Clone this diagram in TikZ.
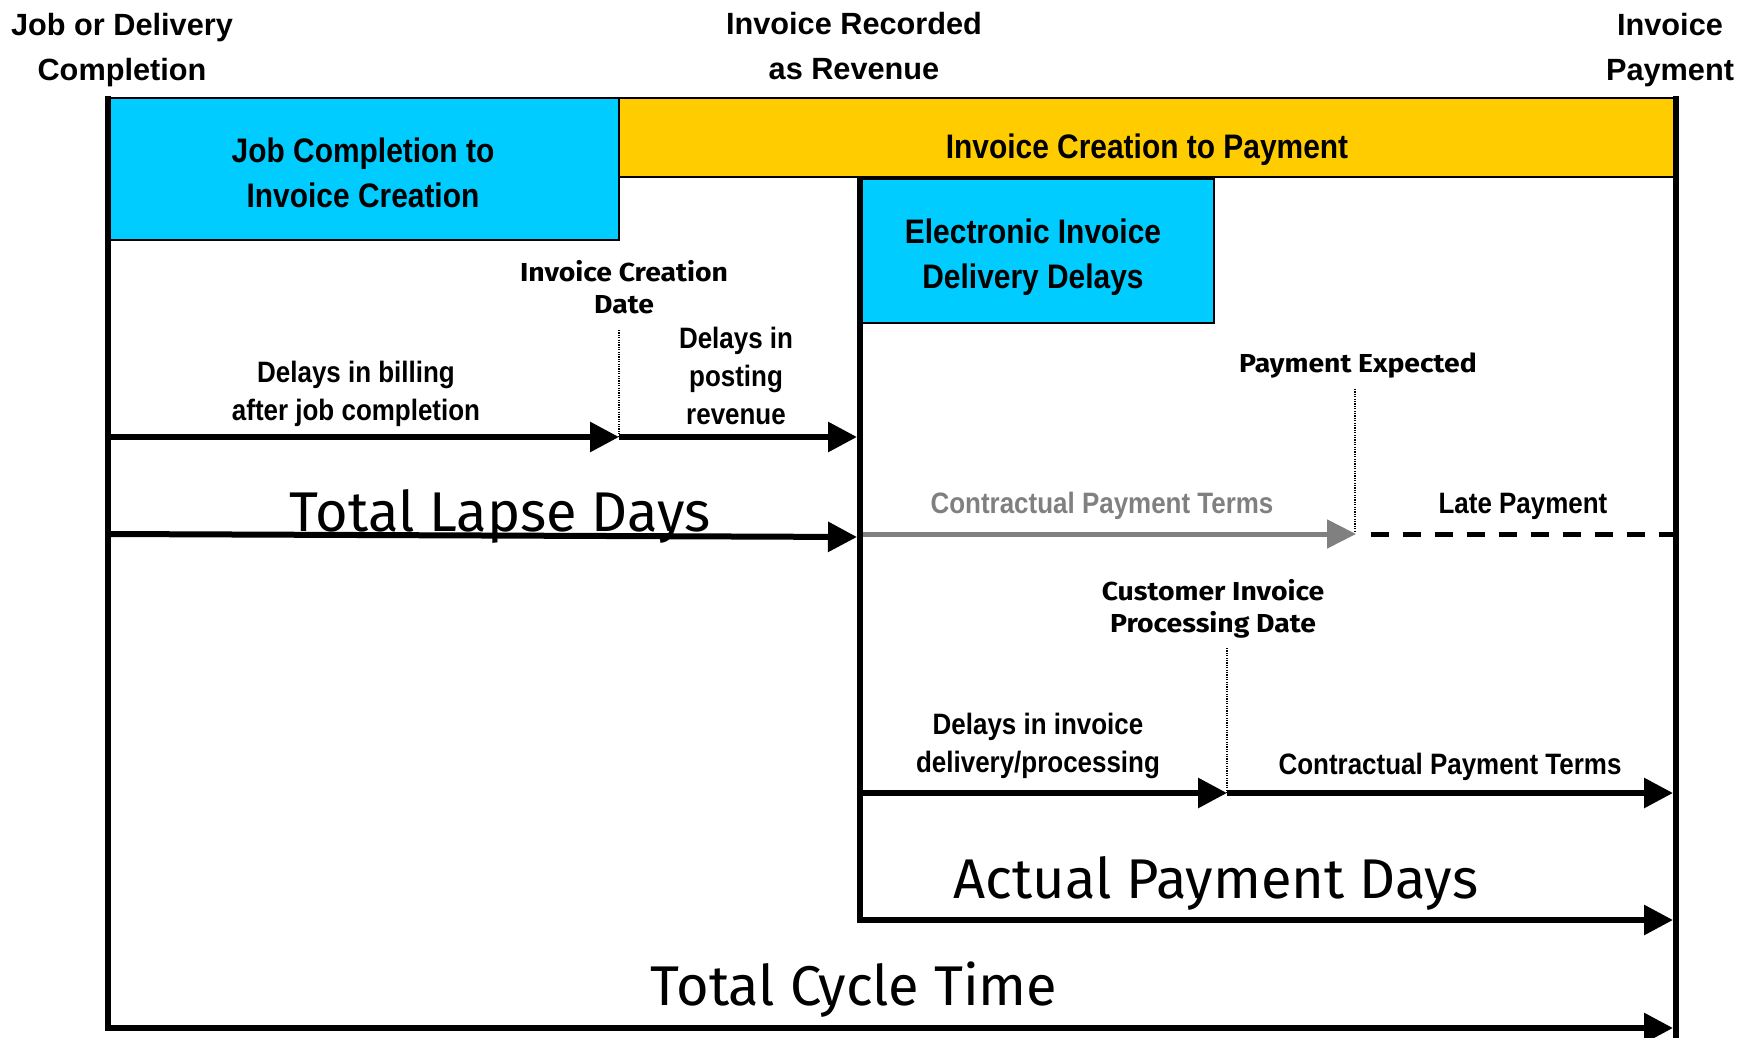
\documentclass[tikz,border=0pt]{standalone}
\usepackage{fontspec}
\setmainfont{Liberation Sans}
\newfontfamily\narrow{Liberation Sans}[FakeStretch=0.88]
\newfontfamily\comic{Fira Sans}
\newfontfamily\comicw{Fira Sans}[FakeStretch=1.09]
\usetikzlibrary{arrows.meta}
\definecolor{boxblue}{RGB}{0,204,255}
\definecolor{baryellow}{RGB}{255,204,0}
\definecolor{termgray}{RGB}{128,128,128}
\begin{document}
\begin{tikzpicture}[x=1pt,y=-1pt,
  toplab/.style={align=center, font=\bfseries\fontsize{30.7}{45}\selectfont, inner sep=0pt},
  boxlab/.style={align=center, font=\narrow\bfseries\fontsize{34}{45}\selectfont, inner sep=0pt},
  arrlab/.style={align=center, font=\narrow\bfseries\fontsize{29.5}{38}\selectfont, inner sep=0pt},
  datelab/.style={align=center, font=\comicw\bfseries\fontsize{26}{32}\selectfont, inner sep=0pt},
  biglab/.style={font=\comic\fontsize{56}{60}\selectfont, inner sep=0pt},
  flow/.style={line width=6pt, -{Triangle[length=29pt,width=29pt]}},
  grayflow/.style={line width=5pt, termgray, -{Triangle[length=29pt,width=28pt]}},
  frameline/.style={line width=6pt},
  thinbox/.style={draw=black, line width=1.5pt},
  marker/.style={line width=1.2pt, dash pattern=on 1.2pt off 1.2pt},
  latedash/.style={line width=5pt, dash pattern=on 18pt off 14pt},
]
\useasboundingbox (0,0) rectangle (1743,1038);

% boxes
\draw[thinbox, fill=boxblue] (108,98) rectangle (619,240);
\draw[thinbox, fill=baryellow] (619,98) rectangle (1676,177);
\draw[thinbox, fill=boxblue] (861,179) rectangle (1214,323);

% frame lines
\coordinate (lt) at (108,96);
\coordinate (lb) at (108,1031);
\coordinate (rt) at (1676,96);
\coordinate (rb) at (1676,1038);
\coordinate (mt) at (860,177);
\coordinate (mb) at (860,923);
\draw[frameline] (lt) -- (lb);
\draw[frameline] (rt) -- (rb);
\draw[frameline] (mt) -- (mb);

% top labels
\node[toplab] (jdc) at (122,50) {Job or Delivery\\Completion};
\node[toplab] (irr) at (854,46) {Invoice Recorded\\as Revenue};
\node[toplab] (ip) at (1670,50) {Invoice\\Payment};

% box labels
\node[boxlab] (jci) at (363,173) {Job Completion to\\Invoice Creation};
\node[boxlab] (icp) at (1147,150) {Invoice Creation to Payment};
\node[boxlab] (eid) at (1033,257) {Electronic Invoice\\Delivery Delays};

% coordinates for arrows
\coordinate (a1s) at (108,437);
\coordinate (a1e) at (619,437);
\coordinate (a2e) at (857,437);
\coordinate (tls) at (108,534);
\coordinate (tle) at (857,537);
\coordinate (cps) at (863,534);
\coordinate (cpe) at (1356,534);
\coordinate (lps) at (1371,534);
\coordinate (lpe) at (1676,534);
\coordinate (dis) at (860,793);
\coordinate (die) at (1227,793);
\coordinate (cte) at (1673,793);
\coordinate (aps) at (860,920);
\coordinate (ape) at (1673,920);
\coordinate (tcs) at (108,1028);
\coordinate (tce) at (1673,1028);

% dotted markers
\coordinate (d1t) at (619,330);
\coordinate (d2t) at (1355,389);
\coordinate (d2b) at (1355,531);
\coordinate (d3t) at (1227,648);
\draw[marker] (d1t) -- (a1e);
\draw[marker] (d2t) -- (d2b);
\draw[marker] (d3t) -- (die);

% arrows
\draw[flow] (a1s) -- (a1e);
\draw[flow] (a1e) -- (a2e);
\draw[flow] (tls) -- (tle);
\draw[grayflow] (cps) -- (cpe);
\draw[latedash] (lps) -- (lpe);
\draw[flow] (dis) -- (die);
\draw[flow] (die) -- (cte);
\draw[flow] (aps) -- (ape);
\draw[flow] (tcs) -- (tce);

% date labels
\node[datelab] (icd) at (624,287) {Invoice Creation\\Date};
\node[datelab] (pe) at (1358,366) {Payment Expected};
\node[datelab] (cipd) at (1213,609) {Customer Invoice\\Processing Date};

% arrow labels
\node[arrlab] (dpr) at (736,376) {Delays in\\posting\\revenue};
\node[arrlab] (dib) at (356,394) {Delays in billing\\after job completion};
\node[arrlab, text=termgray] (cpt1) at (1102,506) {Contractual Payment Terms};
\node[arrlab] (lp) at (1523,506) {Late Payment};
\node[arrlab] (did) at (1038,746) {Delays in invoice\\delivery/processing};
\node[arrlab] (cpt2) at (1450,767) {Contractual Payment Terms};

% big labels
\node[biglab] (tld) at (500,516) {Total Lapse Days};
\node[biglab] (apd) at (1216,883) {Actual Payment Days};
\node[biglab] (tct) at (854,990) {Total Cycle Time};
\end{tikzpicture}
\end{document}
